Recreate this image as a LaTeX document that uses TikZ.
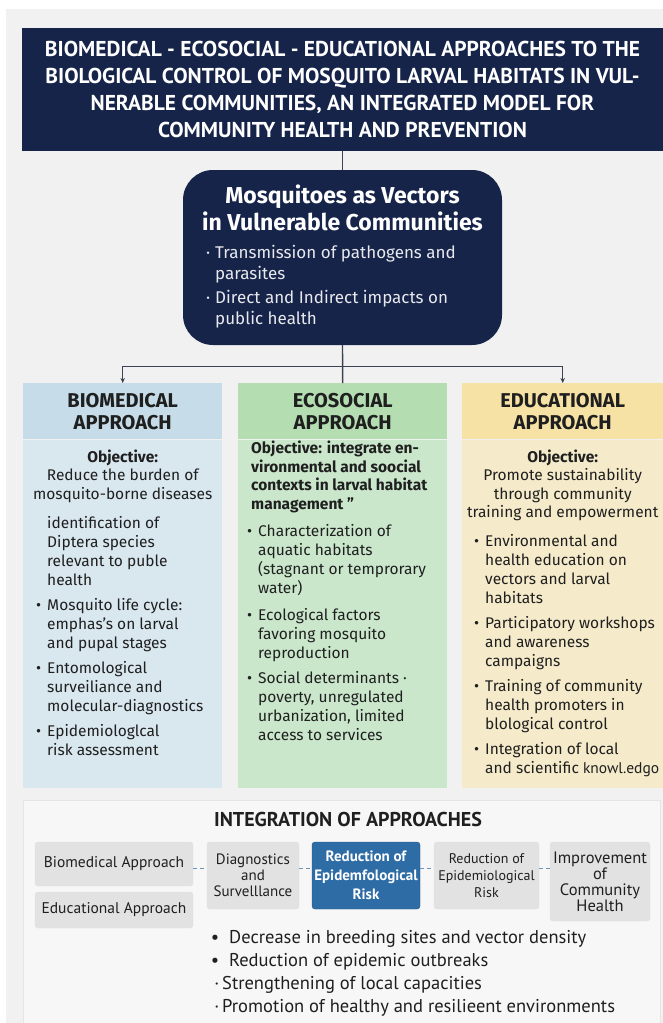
\documentclass[tikz,border=0pt]{standalone}
\usepackage{fontspec}
\setmainfont{Fira Sans}
\newfontfamily\ptsans{PT Sans}
\usetikzlibrary{arrows.meta,positioning,calc}

\definecolor{pagebg}{HTML}{F1F1F1}
\definecolor{navy}{HTML}{16244A}
\definecolor{bioHead}{HTML}{C6DDE9}
\definecolor{bioBody}{HTML}{D9E7EF}
\definecolor{ecoHead}{HTML}{B4DEB2}
\definecolor{ecoBody}{HTML}{CAE7CC}
\definecolor{eduHead}{HTML}{F6E2A5}
\definecolor{eduBody}{HTML}{F5EBCB}
\definecolor{panelBg}{HTML}{F7F7F7}
\definecolor{boxGray}{HTML}{E2E2E2}
\definecolor{riskBlue}{HTML}{2E6CA6}
\definecolor{linkBlue}{HTML}{6B95BD}
\definecolor{ink}{HTML}{1F1F1F}
\definecolor{connGray}{HTML}{3B4252}

\newcommand{\bul}{\llap{•\hspace{6pt}}}
\newcommand{\dotb}{\llap{·\hspace{5pt}}}

\begin{document}
\begin{tikzpicture}[x=1pt,y=-1pt,>=Stealth,
    conn/.style={connGray,line width=1.4pt},
    colhead/.style={anchor=north west,inner sep=0pt,align=center,text=ink,
        font=\bfseries\fontsize{20}{22}\selectfont},
    colbody/.style={anchor=north,inner sep=0pt,minimum height=348pt},
    objtext/.style={inner sep=0pt,text=ink,font=\fontsize{15.5}{18.5}\selectfont},
    listtext/.style={anchor=north west,inner sep=0pt,align=left,text=ink,
        font=\fontsize{15.5}{19}\selectfont},
    flowbox/.style={draw=black!12,fill=boxGray,rounded corners=3pt,inner sep=0pt,
        align=center,text=ink,font=\ptsans\fontsize{15}{16}\selectfont},
    dashlink/.style={linkBlue,line width=1pt,dash pattern=on 4pt off 3pt}]

    \useasboundingbox (0,0) rectangle (663,1023);
    \fill[pagebg] (6,9) rectangle (663,1023);

    % Title and central box
    \node[fill=navy,minimum width=641pt,minimum height=123pt,inner sep=0pt,text=white,align=center,
        font=\ptsans\bfseries\fontsize{21.5}{27}\selectfont] (title) at (342.5,89.5)
        {BIOMEDICAL - ECOSOCIAL - EDUCATIONAL APPROACHES TO THE\\
         BIOLOGICAL CONTROL OF MOSQUITO LARVAL HABITATS IN VUL-\\
         NERABLE COMMUNITIES, AN INTEGRATED MODEL FOR\\
         COMMUNITY HEALTH AND PREVENTION};

    \node[fill=navy,rounded corners=30pt,minimum width=319pt,minimum height=175pt] (vec) at (342.5,257.5) {};
    \node[anchor=north,inner sep=0pt,text=white,align=center,font=\bfseries\fontsize{23}{27}\selectfont]
        (vechead) at ($(vec.north)+(0,15)$) {Mosquitoes as Vectors\\in Vulnerable Communities};
    \node[anchor=north west,inner sep=0pt,text=white!90!navy,align=left,font=\fontsize{17}{21}\selectfont]
        (veclist) at (215,245) {\dotb Transmission of pathogens and\\parasites\\[3pt]
        \dotb Direct and Indirect impacts on\\public health};

    % Biomedical column
    \node[colhead,fill=bioHead,minimum width=199pt,minimum height=56pt] (biohead) at (23,383) {BIOMEDICAL\\APPROACH};
    \node[colbody,fill=bioBody,minimum width=199pt] (biobody) at (biohead.south) {};
    \node[objtext,anchor=north,align=center] (bioobj) at ($(biobody.north)+(0,10)$)
        {{\bfseries Objective:}\\Reduce the burden of\\mosquito-borne diseases};
    \node[listtext] (biolist) at (47,516)
        {identification of\\Diptera species\\relevant to puble\\health\\[6pt]
        \bul Mosquito life cycle:\\emphas’s on larval\\and pupal stages\\[6pt]
        \bul Entomological\\surveiliance and\\molecular-diagnostics\\[6pt]
        \bul Epidemiologlcal\\risk assessment};

    % Ecosocial column
    \node[colhead,fill=ecoHead,minimum width=209pt,minimum height=56pt] (ecohead) at (238,383) {ECOSOCIAL\\APPROACH};
    \node[colbody,fill=ecoBody,minimum width=209pt] (ecobody) at (ecohead.south) {};
    \node[objtext,anchor=north west,align=left,font=\bfseries\fontsize{15.5}{18.5}\selectfont] (ecoobj) at (251,441)
        {Objective: integrate en-\\vironmental and soocial\\contexts in larval habitat\\management ”};
    \node[listtext] (ecolist) at (258,524)
        {\bul Characterization of\\aquatic habitats\\(stagnant or temprorary\\water)\\[8pt]
        \bul Ecological factors\\favoring mosquito\\reproduction\\[6pt]
        \bul Social determinants ·\\poverty, unregulated\\urbanization, limited\\access to services};

    % Educational column
    \node[colhead,fill=eduHead,minimum width=201pt,minimum height=56pt] (eduhead) at (462,383) {EDUCATIONAL\\APPROACH};
    \node[colbody,fill=eduBody,minimum width=201pt] (edubody) at (eduhead.south) {};
    \node[objtext,anchor=north,align=center] (eduobj) at ($(edubody.north)+(0,10)$)
        {{\bfseries Objective:}\\Promote sustainability\\through community\\training and empowerment};
    \node[listtext] (edulist) at (485,534)
        {\bul Environmental and\\health education on\\vectors and larval\\habitats\\[6pt]
        \bul Participatory workshops\\and awareness\\campaigns\\[6pt]
        \bul Training of community\\health promoters in\\blological control\\[6pt]
        \bul Integration of local\\and scientific {\ptsans knowl.edgo}};

    % Connectors
    \draw[conn] (title.south) -- (vec.north);
    \draw[conn] (vec.south) -- (ecohead.north);
    \coordinate (split) at ($(vec.south)+(0,21)$);
    \draw[conn,-{Stealth[length=5pt,width=4.5pt]}] (split) -| (biohead.north);
    \draw[conn,-{Stealth[length=5pt,width=4.5pt]}] (split) -| (eduhead.north);

    % Integration panel
    \node[anchor=north west,draw=black!10,fill=panelBg,minimum width=637pt,minimum height=240pt,inner sep=0pt]
        (panel) at (23,800) {};
    \node[inner sep=0pt,text=ink,font=\ptsans\bfseries\fontsize{20}{22}\selectfont] (inttitle) at (348,819)
        {INTEGRATION OF APPROACHES};

    \node[flowbox,font=\ptsans\fontsize{15.5}{18}\selectfont,minimum width=158pt,minimum height=44pt] (bmbox) at (114,864) {Biomedical Approach};
    \node[flowbox,font=\ptsans\fontsize{15.5}{18}\selectfont,minimum width=158pt,minimum height=36pt] (edbox) at (114,910) {Educational Approach};
    \node[flowbox,minimum width=92pt,minimum height=67pt] (diag) at (253,875.5) {Diagnostics\\and\\Survelllance};
    \node[flowbox,fill=riskBlue,draw=riskBlue!80!black,text=white,font=\ptsans\bfseries\fontsize{15}{19}\selectfont,
        minimum width=108pt,minimum height=67pt] (riskblue) at (366,875.5) {Reduction of\\Epidemfological\\Risk};
    \node[flowbox,font=\ptsans\fontsize{14}{17}\selectfont,minimum width=105pt,minimum height=67pt] (riskgray) at (486.5,875.5)
        {Reduction of\\Epidemiological\\Risk};
    \node[flowbox,font=\ptsans\fontsize{16.5}{16}\selectfont,minimum width=100pt,minimum height=79pt] (improve) at (600,881.5)
        {Improvement\\of\\Community\\Health};

    \draw[dashlink] ([yshift=-4pt]bmbox.east) -- ([yshift=-4pt]bmbox.east -| diag.west);
    \draw[dashlink] ([yshift=7.5pt]diag.east) -- ([yshift=7.5pt]riskblue.west);
    \draw[dashlink] ([yshift=7.5pt]riskblue.east) -- ([yshift=7.5pt]riskgray.west);
    \draw[dashlink] ([yshift=7.5pt]riskgray.east) -- ([yshift=7.5pt]riskgray.east -| improve.west);

    \node[anchor=north west,inner sep=0pt,align=left,text=ink,font=\ptsans\fontsize{18.5}{23}\selectfont] (outcomes) at (229,930)
        {\llap{•\hspace{10pt}}Decrease in breeding sites and vector density\\
         \llap{•\hspace{10pt}}Reduction of epidemic outbreaks\\
         \hspace*{-7pt}\llap{·\hspace{3pt}}Strengthening of local capacities\\
         \hspace*{-7pt}\llap{·\hspace{3pt}}Promotion of healthy and resilieent environments};
\end{tikzpicture}
\end{document}
